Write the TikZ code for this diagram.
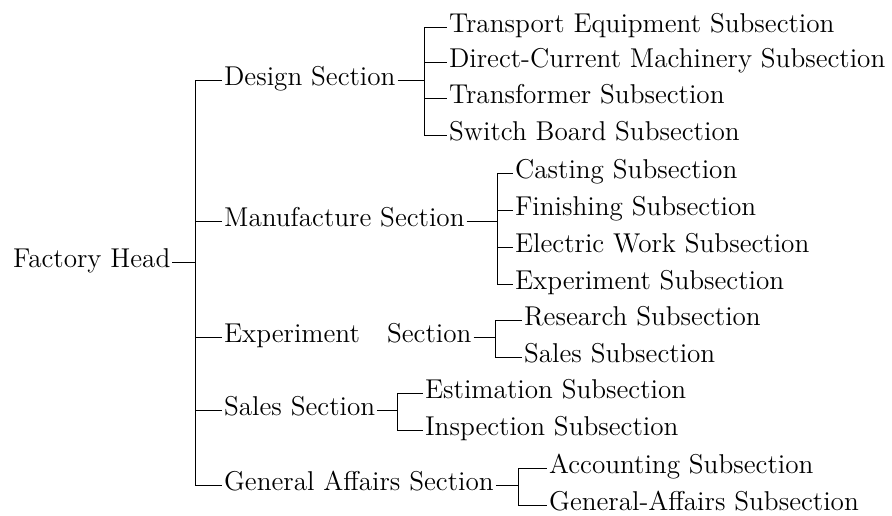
\documentclass[tikz,border=0pt]{standalone}
\usepackage{tikz}
\usetikzlibrary{calc}
\newcommand\chartfont{\fontsize{13.6}{16}\selectfont\spaceskip=0.42em\relax}
\tikzset{unit/.style={anchor=west, inner sep=0.8pt, text height=1ex, text depth=0pt}}

\begin{document}
\begin{tikzpicture}[x=0.5pt, y=-0.5pt, line width=0.5pt, node font=\chartfont]
	\useasboundingbox (0,0) rectangle (892,515);
	% head and sections
	\node[unit] (head) at (11,262) {Factory Head};
	\coordinate (hbar) at (195,0);
	\node[unit] (design) at (222,80) {Design Section};
	\node[unit] (manuf) at (222,221) {Manufacture Section};
	\node[unit] (exper) at (222,337) {Experiment\quad Section};
	\node[unit] (sales) at (222,410) {Sales Section};
	\node[unit] (affairs) at (222,485) {General Affairs Section};
	\draw (head.east) -- (hbar |- head.east);
	\draw (hbar |- design.west) -- (hbar |- affairs.west);
	\foreach \s in {design,manuf,exper,sales,affairs}
		\draw (hbar |- \s.west) -- (\s.west);
	% subsections of each section
	\coordinate (dbar) at (424,0);
	\node[unit] (d1) at (447,27) {Transport Equipment Subsection};
	\node[unit] (d2) at (447,62) {Direct-Current Machinery Subsection};
	\node[unit] (d3) at (447,98) {Transformer Subsection};
	\node[unit] (d4) at (447,135) {Switch Board Subsection};
	\coordinate (mbar) at (497,0);
	\node[unit] (m1) at (513,173) {Casting Subsection};
	\node[unit] (m2) at (513,210) {Finishing Subsection};
	\node[unit] (m3) at (513,247) {Electric Work Subsection};
	\node[unit] (m4) at (513,284) {Experiment Subsection};
	\coordinate (ebar) at (495,0);
	\node[unit] (e1) at (522,320) {Research Subsection};
	\node[unit] (e2) at (522,357) {Sales Subsection};
	\coordinate (sbar) at (397,0);
	\node[unit] (s1) at (423,393) {Estimation Subsection};
	\node[unit] (s2) at (423,430) {Inspection Subsection};
	\coordinate (abar) at (518,0);
	\node[unit] (a1) at (547,468) {Accounting Subsection};
	\node[unit] (a2) at (547,505) {General-Affairs Subsection};
	% bars and dashes
	\foreach \sec/\brr/\first/\last/\kids in {design/dbar/d1/d4/{d1,d2,d3,d4},
			manuf/mbar/m1/m4/{m1,m2,m3,m4}, exper/ebar/e1/e2/{e1,e2},
			sales/sbar/s1/s2/{s1,s2}, affairs/abar/a1/a2/{a1,a2}} {
		\draw (\sec.east) -- (\brr |- \sec.east);
		\draw (\brr |- \first.west) -- (\brr |- \last.west);
		\foreach \k in \kids
			\draw (\brr |- \k.west) -- (\k.west);
	}
\end{tikzpicture}
\end{document}
